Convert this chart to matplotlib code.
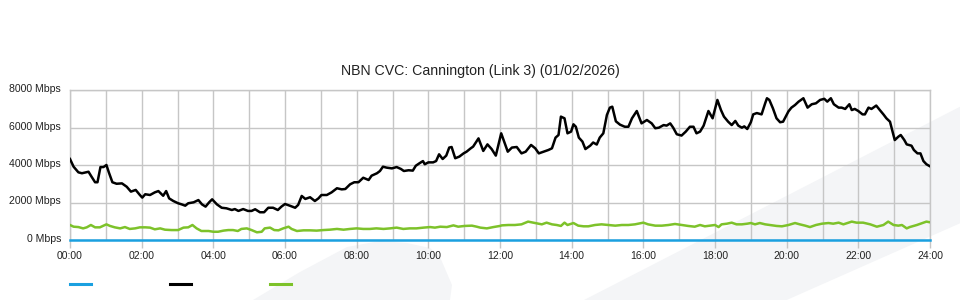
import matplotlib
matplotlib.use("Agg")
import matplotlib.pyplot as plt
import matplotlib.transforms as mtransforms
from matplotlib.patches import Polygon
from matplotlib.ticker import MultipleLocator, FuncFormatter

# ---------------- data (minutes since 00:00, Mbps) ----------------
title_text = "NBN CVC: Cannington (Link 3) (01/02/2026)"

blue_time = [0, 1440]
blue_mbps = [0, 0]

black_time = [
    0, 6, 14, 20, 31, 36, 42, 46, 51, 56, 61, 65, 71, 78, 87, 95, 102, 110, 117, 121,
    126, 134, 142, 148, 156, 161, 166, 173, 181, 187, 193, 198, 207, 215, 221, 227, 233, 238, 246, 254,
    262, 271, 276, 282, 290, 298, 304, 310, 318, 325, 332, 340, 348, 354, 360,
    368, 377, 382, 388, 394, 402, 410, 416, 421, 430, 438, 447, 455, 461, 469, 476, 483, 491, 500, 505,
    514, 519, 524, 530, 539, 547, 554, 559, 567, 574, 579, 585, 591, 594, 600, 608, 613, 618, 624, 630,
    635, 639, 645, 652, 659, 664, 671, 675, 684, 692, 699, 706, 713,
    722, 727, 733, 740, 748, 756, 763, 772, 779, 785, 793, 801, 807, 813, 818, 822, 828, 833, 839, 843,
    847, 852, 858, 863, 871, 876, 882, 887, 893, 899, 904, 908, 914, 921, 929, 935, 941, 949, 957, 966,
    974, 980, 986, 994, 999, 1005, 1010, 1016, 1024, 1031, 1038, 1044, 1049, 1055, 1061, 1069, 1076,
    1084, 1090, 1095, 1102, 1108, 1114, 1119, 1125, 1129, 1134, 1140, 1144, 1150, 1158, 1164, 1167, 1171, 1177, 1183, 1189,
    1194, 1203, 1208, 1214, 1220, 1228, 1235, 1242, 1249, 1256, 1263, 1268, 1274, 1279, 1287, 1292, 1298, 1305, 1309, 1314,
    1320, 1327, 1331, 1337, 1342, 1350, 1356, 1362, 1367, 1373, 1378, 1381, 1387, 1391, 1397, 1401, 1409, 1413, 1419, 1424,
    1429, 1434, 1440,
]
black_mbps = [
    4320, 3910, 3610, 3560, 3640, 3380, 3080, 3080, 3890, 3890, 4000, 3610, 3080, 3000, 3020, 2840, 2580, 2670, 2400, 2260,
    2440, 2400, 2540, 2610, 2360, 2610, 2220, 2080, 1960, 1900, 1830, 1960, 2010, 2130, 1900, 1780, 2010, 2170, 1900, 1720,
    1690, 1600, 1650, 1550, 1650, 1550, 1550, 1640, 1480, 1480, 1720, 1720, 1600, 1780, 1920,
    1830, 1720, 1870, 2350, 2190, 2280, 2080, 2220, 2400, 2400, 2540, 2760, 2700, 2720, 2970, 3080, 3080, 3320, 3200, 3430,
    3560, 3680, 3910, 3860, 3820, 3890, 3790, 3680, 3720, 3700, 3960, 4090, 4210, 4040, 4140, 4140, 4210, 4570, 4320, 4500,
    4930, 4960, 4360, 4450, 4620, 4710, 4890, 4980, 5420, 4750, 5100, 4850, 4500,
    5690, 5250, 4710, 4930, 4960, 4620, 4710, 5070, 4890, 4620, 4710, 4800, 4890, 5460, 5600, 6580, 6490, 5690, 5780, 6170,
    6040, 5460, 5250, 4850, 5030, 5200, 5090, 5460, 5690, 6670, 7060, 7110, 6330, 6150, 6040, 6040, 6490, 6880, 6220, 6400,
    6220, 5960, 5990, 6130, 6100, 6220, 5990, 5640, 5570, 5780, 6040, 6040, 5690, 5780, 6100, 6880, 6490,
    7470, 6930, 6580, 6310, 6130, 6350, 6100, 5990, 6060, 5920, 6280, 6700, 6770, 6700, 7290, 7560, 7470, 7020, 6490, 6280,
    6310, 6860, 7060, 7200, 7380, 7560, 7060, 7240, 7290, 7470, 7530, 7380, 7560, 7240, 7060, 7060, 6990, 7240, 6930, 6990,
    6880, 6700, 6700, 7060, 6990, 7170, 6930, 6700, 6490, 6310, 5690, 5330, 5510, 5600, 5330, 5100, 5030, 4800, 4620, 4620,
    4210, 4040, 3930,
]

green_time = [
    0, 6, 14, 22, 28, 35, 42, 50, 61, 67, 75, 84, 92, 100, 109, 117, 126, 134, 142, 151,
    159, 170, 181, 190, 198, 205, 212, 220, 232, 240, 248, 257, 265, 273, 281, 287, 296, 304, 313, 321,
    326, 335, 342, 349, 357,
    366, 371, 380, 391, 402, 413, 424, 435, 447, 458, 469, 480, 491, 502, 513, 525, 536, 547, 558, 569,
    580, 592, 603, 611, 620, 631, 642, 650, 661, 673, 681, 687, 698, 709, 720,
    723, 734, 745, 756, 767, 779, 790, 798, 807, 815, 822, 828, 833, 843, 851, 860, 868, 879, 890, 901,
    913, 924, 935, 946, 960, 968, 980, 991, 1002, 1013, 1024, 1035, 1046, 1055, 1063, 1072, 1080,
    1086, 1091, 1100, 1108, 1116, 1125, 1134, 1140, 1147, 1155, 1164, 1172, 1183, 1192, 1203, 1214, 1222, 1231, 1239, 1249,
    1259, 1270, 1278, 1287, 1295, 1309, 1317, 1328, 1340, 1351, 1362, 1370, 1379, 1387, 1393, 1401, 1406, 1418, 1426, 1434,
    1440,
]
green_mbps = [
    800, 710, 690, 620, 675, 800, 675, 675, 835, 750, 675, 620, 690, 590, 620, 675, 675, 660, 570, 620,
    550, 530, 530, 660, 675, 800, 620, 480, 480, 440, 440, 500, 530, 530, 480, 590, 620, 530, 410, 440,
    620, 660, 530, 515, 620,
    710, 590, 480, 515, 515, 500, 530, 550, 590, 550, 590, 620, 590, 590, 620, 590, 620, 660, 590, 620,
    620, 660, 690, 660, 710, 690, 780, 710, 750, 765, 710, 660, 620, 690, 750,
    780, 800, 800, 835, 980, 905, 835, 925, 835, 800, 750, 925, 800, 905, 765, 730, 730, 800, 835, 800,
    765, 800, 800, 835, 925, 835, 765, 765, 800, 855, 800, 750, 710, 800, 730, 765, 800,
    690, 835, 870, 925, 835, 835, 870, 905, 835, 905, 835, 800, 750, 730, 800, 905, 835, 765, 690, 800,
    870, 905, 870, 925, 835, 980, 925, 925, 835, 710, 800, 980, 800, 765, 800, 620, 690, 800, 890, 980,
    945,
]

# ---------------- style ----------------
plt.rcParams["font.family"] = ["Liberation Sans", "DejaVu Sans"]
GRID = "#c6c6c6"
BLUE = "#1aa0e0"
BLACK = "#000000"
GREEN = "#7dc22a"
SHADE = "#f4f5f7"
W, H = 960, 300

fig = plt.figure(figsize=(9.6, 3.0), dpi=100)
fig.patch.set_facecolor("white")

def px(points):
    return [(x / W, 1 - y / H) for x, y in points]

# decorative background shapes
band = [(584, 300), (960, 106.7), (960, 223.3), (786.7, 300)]
blob = [(253, 300), (300, 272), (347, 247), (380, 241), (407, 243), (430, 248),
        (440, 257), (452, 285), (450, 300)]
for shape in (band, blob):
    fig.add_artist(Polygon(px(shape), closed=True, transform=fig.transFigure,
                           facecolor=SHADE, edgecolor="none", zorder=-5))

ax = fig.add_axes([70 / W, 60 / H, 860 / W, 150 / H])
ax.set_facecolor("none")
ax.set_xlim(0, 1440)
ax.set_ylim(0, 8000)

ax.xaxis.set_major_locator(MultipleLocator(120))
ax.xaxis.set_minor_locator(MultipleLocator(60))
ax.yaxis.set_major_locator(MultipleLocator(2000))
ax.xaxis.set_major_formatter(FuncFormatter(lambda v, p: f"{int(v // 60):02d}:00"))
ax.yaxis.set_major_formatter(FuncFormatter(lambda v, p: f"{int(v)} Mbps"))

ax.grid(which="both", axis="x", color=GRID, lw=1.0)
ax.grid(which="major", axis="y", color=GRID, lw=1.0)
ax.set_axisbelow(True)
for side in ("left", "right", "top"):
    ax.spines[side].set_color(GRID)
    ax.spines[side].set_linewidth(1.0)
ax.spines["bottom"].set_visible(False)

ax.tick_params(axis="x", which="major", length=6, width=1.0, color=GRID,
               labelsize=7.5, pad=2, labelcolor="#222222")
ax.tick_params(axis="x", which="minor", length=0)
ax.tick_params(axis="y", length=0, labelsize=7.6, pad=6.5, labelcolor="#222222")

# y labels sit ~2px above their grid lines in the reference
shift_up = mtransforms.ScaledTranslation(0, 2 / 100, fig.dpi_scale_trans)
for lab in ax.get_yticklabels():
    lab.set_transform(lab.get_transform() + shift_up)

l_blue, = ax.plot(blue_time, blue_mbps, color=BLUE, lw=1.8, clip_on=False, zorder=4)
l_black, = ax.plot(black_time, black_mbps, color=BLACK, lw=1.8, zorder=3,
                   solid_joinstyle="round")
l_green, = ax.plot(green_time, green_mbps, color=GREEN, lw=1.8, zorder=3,
                   solid_joinstyle="round")

ax.set_title(title_text, fontsize=10.2, pad=10.5, color="#222222",
             x=(480 - 70) / 860)

leg = fig.legend(handles=[l_blue, l_black, l_green], labels=["", "", ""],
                 loc="center left", bbox_to_anchor=(70 / W, 15 / H), ncol=3,
                 frameon=False, handlelength=2.0, handletextpad=0.8,
                 columnspacing=6.8, borderpad=0, borderaxespad=0, fontsize=7.5)
for ln in leg.get_lines():
    ln.set_linewidth(2.2)

fig.savefig("out.png", dpi=100, facecolor="white")
